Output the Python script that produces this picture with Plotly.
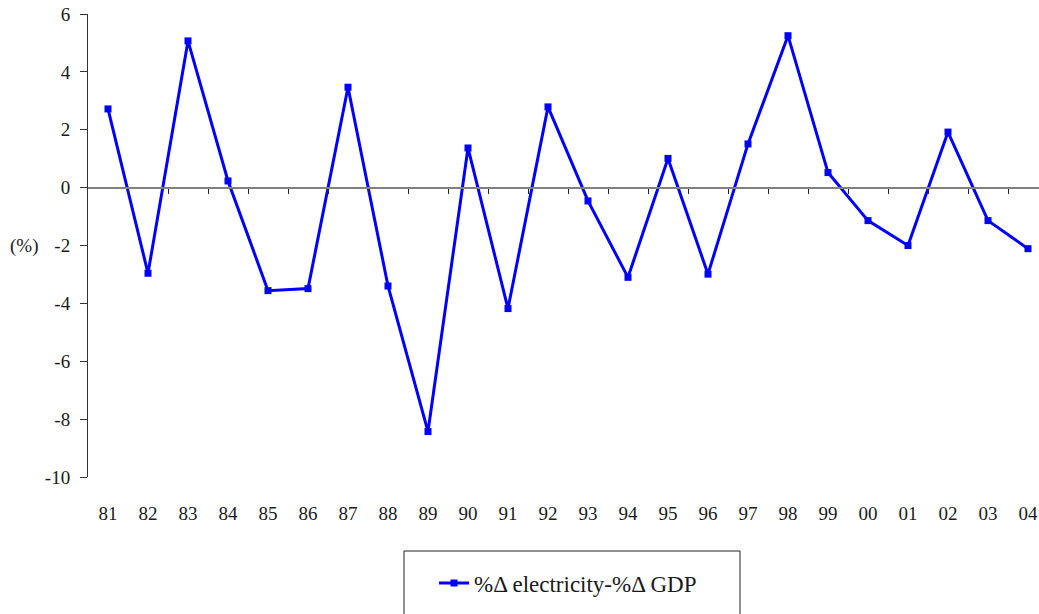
import plotly.graph_objects as go

years = ["81", "82", "83", "84", "85", "86", "87", "88", "89", "90", "91", "92",
         "93", "94", "95", "96", "97", "98", "99", "00", "01", "02", "03", "04"]
diff_values = [2.72, -2.96, 5.07, 0.23, -3.56, -3.49, 3.47, -3.40, -8.43, 1.37, -4.18, 2.79,
               -0.46, -3.10, 1.01, -2.99, 1.51, 5.25, 0.52, -1.14, -2.00, 1.92, -1.14, -2.11]
series_name = "%Δ electricity-%Δ GDP"
y_ticks = [6, 4, 2, 0, -2, -4, -6, -8, -10]

FONT = "Liberation Serif"
W, H = 1039, 614
ML, MT, MB, MR = 88, 14, 137, 0
plot_w = W - ML - MR
plot_h = H - MT - MB

x_idx = list(range(len(years)))
x_range = [-0.5, -0.5 + plot_w / 40.0]

fig = go.Figure()
fig.add_trace(go.Scatter(
    x=x_idx, y=diff_values, mode="lines+markers", name=series_name,
    line=dict(color="#0000FF", width=3),
    marker=dict(symbol="square", size=7, color="#0000FF"),
    xaxis="x", yaxis="y",
))

# invisible trace to carry the zero-crossing axis with boundary ticks
fig.add_trace(go.Scatter(x=[x_range[0]], y=[0], mode="markers", showlegend=False,
                         marker=dict(opacity=0), xaxis="x2", yaxis="y", hoverinfo="skip"))

fig.update_layout(
    width=W, height=H,
    margin=dict(l=ML, r=MR, t=MT, b=MB, autoexpand=False),
    paper_bgcolor="white", plot_bgcolor="white",
    font=dict(family=FONT, size=19, color="#1a1a1a"),
    showlegend=True,
    legend=dict(x=(434 - ML) / plot_w, xanchor="left",
                y=-(583 - (MT + plot_h)) / plot_h, yanchor="middle",
                orientation="h", bgcolor="rgba(0,0,0,0)", borderwidth=0,
                font=dict(family=FONT, size=23, color="#1a1a1a")),
    xaxis=dict(
        range=x_range, tickmode="array", tickvals=x_idx, ticktext=years,
        showline=False, showgrid=False, zeroline=False, automargin=False,
        ticks="outside", ticklen=19, tickcolor="rgba(0,0,0,0)",
        tickfont=dict(family=FONT, size=19, color="#1a1a1a"),
    ),
    xaxis2=dict(
        range=x_range, overlaying="x", anchor="free",
        position=(0 - (-10)) / 16.0, automargin=False,
        showline=True, linecolor="#808080", linewidth=2,
        tickmode="array", tickvals=[i + 0.5 for i in x_idx],
        ticks="outside", ticklen=5, tickcolor="#222222", tickwidth=1,
        showticklabels=False, showgrid=False, zeroline=False,
    ),
    yaxis=dict(
        range=[-10, 6], tickmode="array", tickvals=y_ticks,
        ticktext=[str(v) for v in y_ticks], automargin=False,
        showline=True, linecolor="#333333", linewidth=1,
        ticks="outside", ticklen=7, tickcolor="#333333",
        ticklabelstandoff=6,
        showgrid=False, zeroline=False,
        tickfont=dict(family=FONT, size=19, color="#1a1a1a"),
    ),
)

fig.add_annotation(text="(%)", xref="paper", yref="paper",
                   x=-(ML - 24) / plot_w, y=(MT + plot_h - 246) / plot_h,
                   xanchor="center", yanchor="middle", showarrow=False,
                   font=dict(family=FONT, size=19, color="#1a1a1a"))

# legend frame (extends past the bottom edge as in the reference)
fig.add_shape(type="rect", xref="paper", yref="paper",
              x0=(404 - ML) / plot_w, x1=(740 - ML) / plot_w,
              y0=-(551 - (MT + plot_h)) / plot_h, y1=-(640 - (MT + plot_h)) / plot_h,
              line=dict(color="#222222", width=1), fillcolor="rgba(0,0,0,0)")

fig.write_html("out.html",
               config={"displayModeBar": False},
               post_script="document.body.style.margin='0';document.body.style.overflow='hidden';")
